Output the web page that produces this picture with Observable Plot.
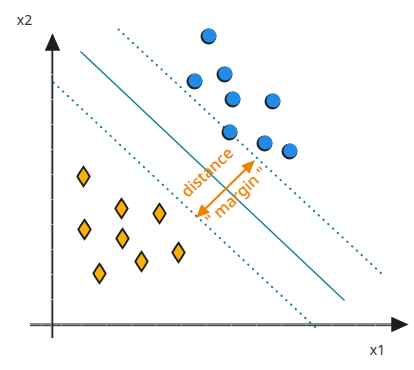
<!DOCTYPE html>
<html>
<head>
<meta charset="utf-8">
<script src="https://cdn.jsdelivr.net/npm/d3@7"></script>
<script src="https://cdn.jsdelivr.net/npm/@observablehq/plot@0.6"></script>
<style>
  html, body { margin: 0; padding: 0; background: #fff; }
  #chart svg { display: block; }
</style>
</head>
<body>
<div id="chart"></div>
<script>
// ---- data (x1, x2 in chart units) ----
const blueX = [6.24, 5.68, 6.88, 7.2, 8.8, 7.08, 8.48, 9.48];
const blueY = [11.52, 9.72, 10.0, 9.0, 8.92, 7.68, 7.24, 6.92];
const orangeX = [1.24, 2.76, 4.28, 1.28, 2.8, 5.04, 3.56, 1.88];
const orangeY = [5.92, 4.64, 4.44, 3.8, 3.44, 2.88, 2.52, 2.04];

// separating hyperplane and margin boundaries: [x1, y1, x2, y2]
const lineNames = ["hyperplane", "upper", "lower"];
const lineStart = [[1.12, 10.92], [2.64, 11.8], [0.04, 9.68]];
const lineEnd = [[11.68, 0.96], [13.16, 2.04], [10.52, -0.12]];

// margin arrow (shaft end points) and head directions (deg)
const arrowStart = [6.0, 4.52];
const arrowEnd = [7.84, 6.32];
const arrowHeadAngles = [225, 45];

// annotation labels
const labelText = ["distance", "\" margin \""];
const labelX = [6.2, 7.36];
const labelY = [6.08, 5.12];

// axes
const axisLabels = ["x1", "x2"];
const axisLabelX = [13.0, -1.12];
const axisLabelY = [-1.04, 12.16];
const xTicks = [-0.44, 0.36, 1.16, 2.16, 3.16, 4.16, 5.16, 6.16, 7.16, 8.16, 9.16, 10.16, 11.16, 12.16, 12.92];
const yTicks = [1, 2, 3, 4, 5, 6, 7, 8, 9, 10, 11];

// ---- build tables ----
const blue = blueX.map((x, i) => ({x, y: blueY[i]}));
const orange = orangeX.map((x, i) => ({x, y: orangeY[i]}));
const lines = lineNames.map((name, i) => ({name, x1: lineStart[i][0], y1: lineStart[i][1], x2: lineEnd[i][0], y2: lineEnd[i][1]}));
const heads = [
  {x: arrowStart[0], y: arrowStart[1], a: arrowHeadAngles[0]},
  {x: arrowEnd[0], y: arrowEnd[1], a: arrowHeadAngles[1]}
];
const labels = labelText.map((t, i) => ({t, x: labelX[i], y: labelY[i]}));
const axLabels = axisLabels.map((t, i) => ({t, x: axisLabelX[i], y: axisLabelY[i]}));

// custom symbols
const tallDiamond = {
  draw(ctx, size) {
    const r = Math.sqrt(size / Math.PI);
    const w = r * 0.72, h = r * 1.12;
    ctx.moveTo(0, -h);
    ctx.quadraticCurveTo(w * 0.6, -h * 0.45, w, 0);
    ctx.quadraticCurveTo(w * 0.6, h * 0.45, 0, h);
    ctx.quadraticCurveTo(-w * 0.6, h * 0.45, -w, 0);
    ctx.quadraticCurveTo(-w * 0.6, -h * 0.45, 0, -h);
    ctx.closePath();
  }
};
const head = {
  draw(ctx, size) {
    const r = Math.sqrt(size / Math.PI);
    ctx.moveTo(0, -r * 1.2);
    ctx.lineTo(r * 0.8, r * 0.6);
    ctx.lineTo(-r * 0.8, r * 0.6);
    ctx.closePath();
  }
};

const teal = "#0f8294";
const orangeInk = "#ee8100";
const ink = "#1e1e1e";
const font = "'Noto Sans', 'DejaVu Sans', sans-serif";

const chart = Plot.plot({
  width: 414,
  height: 370,
  margin: 0,
  x: {domain: [-2.08, 14.48], axis: null},
  y: {domain: [-1.84, 12.96], axis: null},
  style: {background: "#fff", fontFamily: font},
  marks: [
    // axes
    Plot.ruleY([0], {x1: -0.88, x2: 13.6, stroke: "#8a8a8a", strokeWidth: 3}),
    Plot.ruleY([0], {x1: -0.88, x2: 13.6, stroke: "#333", strokeWidth: 0.9, dy: 1.2}),
    Plot.ruleX(xTicks, {x: d => d, y1: -0.06, y2: 0.06, stroke: "#aaa", strokeWidth: 1}),
    Plot.ruleX([0], {y1: -0.56, y2: 11.3, stroke: "#9a9a9a", strokeWidth: 1, dx: -1.2}),
    Plot.ruleX([0], {y1: -0.56, y2: 11.3, stroke: "#222", strokeWidth: 1.5}),
    Plot.ruleY(yTicks, {y: d => d, x1: -0.05, x2: 0.05, stroke: "#bbb", strokeWidth: 1}),
    Plot.dot([{x: 0, y: 11.18, a: 0}, {x: 13.78, y: 0, a: 90}], {x: "x", y: "y", rotate: "a", symbol: head, r: 8.5, fill: ink, stroke: ink, strokeWidth: 1.2}),
    // hyperplane + margins
    Plot.link(lines.filter(d => d.name === "hyperplane"), {x1: "x1", y1: "y1", x2: "x2", y2: "y2", stroke: teal, strokeWidth: 1.5}),
    Plot.link(lines.filter(d => d.name !== "hyperplane"), {x1: "x1", y1: "y1", x2: "x2", y2: "y2", stroke: teal, strokeWidth: 2, strokeDasharray: "0.5,6", strokeLinecap: "round"}),
    // blue class
    Plot.dot(blue, {x: "x", y: "y", r: 7.5, fill: ink, stroke: ink, strokeWidth: 1}),
    Plot.dot(blue, {x: "x", y: "y", r: 7, fill: "#228be6", dx: 0.9, dy: -0.9}),
    // orange class
    Plot.dot(orange, {x: "x", y: "y", symbol: tallDiamond, r: 8.6, fill: "#fab005", stroke: ink, strokeWidth: 1.8}),
    // margin arrow
    Plot.link([heads], {x1: d => d[0].x, y1: d => d[0].y, x2: d => d[1].x, y2: d => d[1].y, stroke: orangeInk, strokeWidth: 2}),
    Plot.dot(heads, {x: "x", y: "y", rotate: "a", symbol: head, r: 6.5, fill: orangeInk, stroke: orangeInk, strokeWidth: 1}),
    // annotations
    Plot.text(labels, {x: "x", y: "y", text: "t", rotate: -43, fill: orangeInk, fontSize: 16, fontWeight: 500}),
    Plot.text(axLabels, {x: "x", y: "y", text: "t", fill: "#333", fontSize: 14})
  ]
});
document.getElementById("chart").appendChild(chart);
</script>
</body>
</html>
